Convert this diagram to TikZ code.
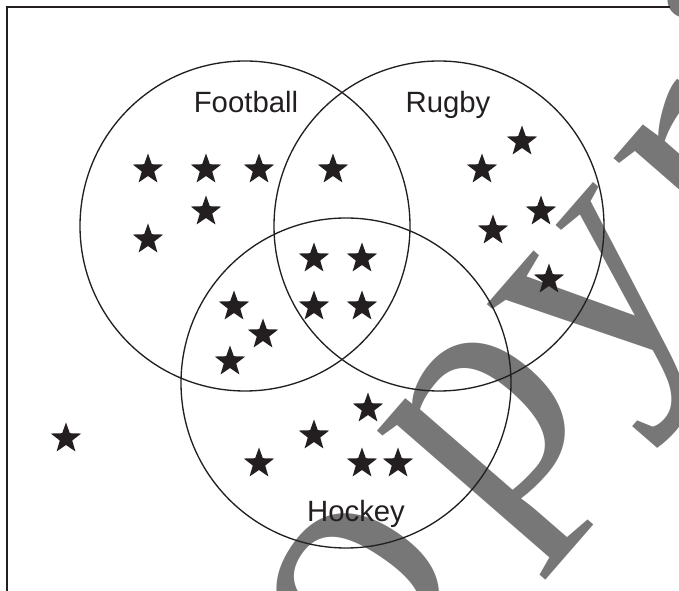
\documentclass[tikz,border=0pt]{standalone}
\usepackage{fontspec}
\setmainfont{Liberation Sans}
\newfontfamily\wmfont{Liberation Serif}
\usetikzlibrary{shapes.geometric}
\definecolor{ink}{HTML}{231F20}
\definecolor{wm}{HTML}{777777}
\begin{document}
\begin{tikzpicture}[x=0.75pt,y=-0.75pt,
  pt/.style={star,star points=5,star point ratio=2.45,fill=ink,draw=none,inner sep=0pt,minimum size=24pt},
  setcirc/.style={draw=ink,line width=1pt,circle,inner sep=0pt,minimum size=247.5pt},
  lab/.style={text=ink,font=\fontsize{22}{22}\selectfont,anchor=base,inner sep=0pt},
  wmtext/.style={text=wm,font=\wmfont\fontsize{251}{251}\selectfont,inner sep=0pt}]
\useasboundingbox (0,0) rectangle (679,591);
% watermark
\coordinate (wmo) at (488,538);
\node[wmtext,rotate=56,anchor=base east] (wmA) at (wmo) {C\kern0.08em o\kern0.10em};
\node[wmtext,rotate=49,anchor=base west] (wmB) at (wmo) {p\kern0.013em y\kern0.07em r\kern0.05em ight};
% frame
\coordinate (fa) at (7,591);
\coordinate (fb) at (7,7);
\coordinate (fc) at (670,7);
\draw[ink,line width=1.2pt] (fa) -- (fb) -- (fc);
% circles
\node[setcirc] (F) at (245,226) {};
\node[setcirc] (R) at (439,226) {};
\node[setcirc] (H) at (346,383) {};
% labels
\node[lab] (lF) at (246,113) {Football};
\node[lab] (lR) at (448,113) {Rugby};
\node[lab] (lH) at (356,522) {Hockey};
% stars
\foreach \n/\x/\y in {s1/148/168,s2/206/168,s3/259/168,s4/206/210,s5/148/238,
  s6/333/168,
  s7/314/257,s8/362/257,s9/314/305,s10/362/305,
  s11/234/305,s12/263/333,s13/230/360,
  s14/522/140,s15/482/168,s16/541/210,s17/493/229,s18/549/278,
  s19/368/407,s20/314/434,s21/259/462,s22/362/462,s23/398/462,
  s24/66/437}
  \node[pt] (\n) at (\x,\y+1.5) {};
\end{tikzpicture}
\end{document}
